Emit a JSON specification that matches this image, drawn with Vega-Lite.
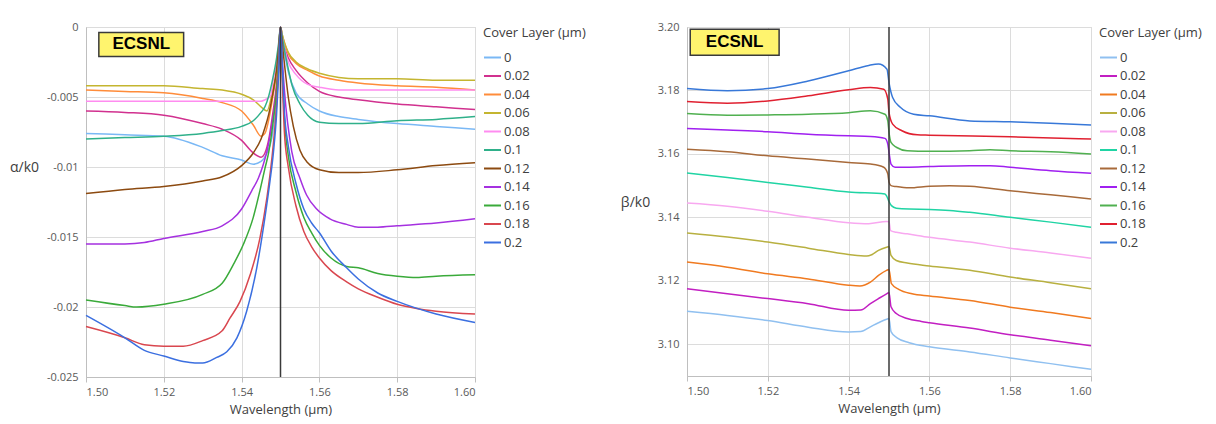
{
"$schema": "https://vega.github.io/schema/vega-lite/v6.json",
"background": "white",
"padding": {"left": 8, "top": 20, "right": 0, "bottom": 0},
"config": {
  "font": "Open Sans",
  "view": {"stroke": "#d0d0d0"},
  "axis": {"labelFont": "Open Sans", "labelFontSize": 11, "labelColor": "#595959", "titleFont": "Open Sans", "titleFontSize": 13, "titleFontWeight": "normal", "titleColor": "#404040", "domainColor": "#bfbfbf", "tickColor": "#bfbfbf", "gridColor": "#dcdcdc", "grid": true},
  "legend": {"titleFont": "Open Sans", "titleFontSize": 13, "titleFontWeight": "normal", "titleColor": "#404040", "labelFont": "Open Sans", "labelFontSize": 13, "labelColor": "#404040", "symbolType": "stroke", "symbolSize": 289, "symbolStrokeWidth": 2, "rowPadding": 1.5, "labelOffset": 2, "offset": 5, "titlePadding": 8}
},
"datasets": {
"alpha": [
{"c":"0","w":1.50,"v":-0.0076},{"c":"0","w":1.51,"v":-0.0077},{"c":"0","w":1.52,"v":-0.0078},{"c":"0","w":1.53,"v":-0.0086},{"c":"0","w":1.535,"v":-0.0092},{"c":"0","w":1.54,"v":-0.0095},{"c":"0","w":1.543,"v":-0.0098},{"c":"0","w":1.545,"v":-0.0096},{"c":"0","w":1.5465,"v":-0.0090},{"c":"0","w":1.5478,"v":-0.0079},{"c":"0","w":1.5489,"v":-0.0055},{"c":"0","w":1.5495,"v":-0.0030},{"c":"0","w":1.55,"v":0},{"c":"0","w":1.5505,"v":-0.0010},{"c":"0","w":1.551,"v":-0.0018},{"c":"0","w":1.552,"v":-0.0032},{"c":"0","w":1.554,"v":-0.0047},{"c":"0","w":1.557,"v":-0.0055},{"c":"0","w":1.56,"v":-0.0060},{"c":"0","w":1.565,"v":-0.0064},{"c":"0","w":1.57,"v":-0.0066},{"c":"0","w":1.58,"v":-0.0069},{"c":"0","w":1.59,"v":-0.0071},{"c":"0","w":1.60,"v":-0.0073},
{"c":"0.02","w":1.50,"v":-0.0060},{"c":"0.02","w":1.51,"v":-0.0061},{"c":"0.02","w":1.52,"v":-0.0063},{"c":"0.02","w":1.53,"v":-0.0069},{"c":"0.02","w":1.535,"v":-0.0073},{"c":"0.02","w":1.54,"v":-0.0081},{"c":"0.02","w":1.543,"v":-0.0090},{"c":"0.02","w":1.545,"v":-0.0093},{"c":"0.02","w":1.546,"v":-0.0090},{"c":"0.02","w":1.547,"v":-0.0080},{"c":"0.02","w":1.548,"v":-0.0062},{"c":"0.02","w":1.549,"v":-0.0040},{"c":"0.02","w":1.5495,"v":-0.0022},{"c":"0.02","w":1.55,"v":0},{"c":"0.02","w":1.5505,"v":-0.0008},{"c":"0.02","w":1.551,"v":-0.0014},{"c":"0.02","w":1.552,"v":-0.0022},{"c":"0.02","w":1.554,"v":-0.0031},{"c":"0.02","w":1.557,"v":-0.0040},{"c":"0.02","w":1.56,"v":-0.0046},{"c":"0.02","w":1.565,"v":-0.0050},{"c":"0.02","w":1.57,"v":-0.0052},{"c":"0.02","w":1.58,"v":-0.0055},{"c":"0.02","w":1.59,"v":-0.0057},{"c":"0.02","w":1.60,"v":-0.0059},
{"c":"0.04","w":1.50,"v":-0.0045},{"c":"0.04","w":1.51,"v":-0.0046},{"c":"0.04","w":1.52,"v":-0.0047},{"c":"0.04","w":1.53,"v":-0.0051},{"c":"0.04","w":1.535,"v":-0.0054},{"c":"0.04","w":1.54,"v":-0.0060},{"c":"0.04","w":1.543,"v":-0.0070},{"c":"0.04","w":1.545,"v":-0.0078},{"c":"0.04","w":1.546,"v":-0.0076},{"c":"0.04","w":1.547,"v":-0.0066},{"c":"0.04","w":1.548,"v":-0.0050},{"c":"0.04","w":1.549,"v":-0.0032},{"c":"0.04","w":1.5495,"v":-0.0018},{"c":"0.04","w":1.55,"v":0},{"c":"0.04","w":1.5505,"v":-0.0006},{"c":"0.04","w":1.551,"v":-0.0011},{"c":"0.04","w":1.552,"v":-0.0019},{"c":"0.04","w":1.554,"v":-0.0026},{"c":"0.04","w":1.557,"v":-0.0031},{"c":"0.04","w":1.56,"v":-0.0035},{"c":"0.04","w":1.565,"v":-0.0038},{"c":"0.04","w":1.57,"v":-0.0040},{"c":"0.04","w":1.58,"v":-0.0042},{"c":"0.04","w":1.59,"v":-0.0043},{"c":"0.04","w":1.60,"v":-0.0045},
{"c":"0.06","w":1.50,"v":-0.0042},{"c":"0.06","w":1.51,"v":-0.0042},{"c":"0.06","w":1.52,"v":-0.0042},{"c":"0.06","w":1.53,"v":-0.0044},{"c":"0.06","w":1.535,"v":-0.0045},{"c":"0.06","w":1.54,"v":-0.0048},{"c":"0.06","w":1.543,"v":-0.0052},{"c":"0.06","w":1.545,"v":-0.0057},{"c":"0.06","w":1.5465,"v":-0.0060},{"c":"0.06","w":1.548,"v":-0.0045},{"c":"0.06","w":1.549,"v":-0.0030},{"c":"0.06","w":1.5495,"v":-0.0016},{"c":"0.06","w":1.55,"v":0},{"c":"0.06","w":1.5505,"v":-0.0006},{"c":"0.06","w":1.551,"v":-0.0011},{"c":"0.06","w":1.552,"v":-0.0018},{"c":"0.06","w":1.554,"v":-0.0025},{"c":"0.06","w":1.557,"v":-0.0030},{"c":"0.06","w":1.56,"v":-0.0033},{"c":"0.06","w":1.565,"v":-0.0036},{"c":"0.06","w":1.57,"v":-0.0037},{"c":"0.06","w":1.58,"v":-0.0037},{"c":"0.06","w":1.59,"v":-0.0038},{"c":"0.06","w":1.60,"v":-0.0038},
{"c":"0.08","w":1.50,"v":-0.0053},{"c":"0.08","w":1.52,"v":-0.0053},{"c":"0.08","w":1.54,"v":-0.0053},{"c":"0.08","w":1.545,"v":-0.0053},{"c":"0.08","w":1.546,"v":-0.0052},{"c":"0.08","w":1.5475,"v":-0.0049},{"c":"0.08","w":1.548,"v":-0.0040},{"c":"0.08","w":1.549,"v":-0.0025},{"c":"0.08","w":1.5495,"v":-0.0014},{"c":"0.08","w":1.55,"v":0},{"c":"0.08","w":1.5505,"v":-0.0008},{"c":"0.08","w":1.551,"v":-0.0015},{"c":"0.08","w":1.552,"v":-0.0025},{"c":"0.08","w":1.554,"v":-0.0034},{"c":"0.08","w":1.557,"v":-0.0041},{"c":"0.08","w":1.56,"v":-0.0043},{"c":"0.08","w":1.565,"v":-0.0045},{"c":"0.08","w":1.57,"v":-0.0045},{"c":"0.08","w":1.58,"v":-0.0045},{"c":"0.08","w":1.59,"v":-0.0045},{"c":"0.08","w":1.60,"v":-0.0045},
{"c":"0.1","w":1.50,"v":-0.0080},{"c":"0.1","w":1.51,"v":-0.0079},{"c":"0.1","w":1.52,"v":-0.0078},{"c":"0.1","w":1.53,"v":-0.0076},{"c":"0.1","w":1.535,"v":-0.0074},{"c":"0.1","w":1.54,"v":-0.0071},{"c":"0.1","w":1.543,"v":-0.0067},{"c":"0.1","w":1.545,"v":-0.0061},{"c":"0.1","w":1.546,"v":-0.0057},{"c":"0.1","w":1.547,"v":-0.0049},{"c":"0.1","w":1.548,"v":-0.0037},{"c":"0.1","w":1.549,"v":-0.0022},{"c":"0.1","w":1.5495,"v":-0.0012},{"c":"0.1","w":1.55,"v":0},{"c":"0.1","w":1.5505,"v":-0.0008},{"c":"0.1","w":1.551,"v":-0.0016},{"c":"0.1","w":1.552,"v":-0.0030},{"c":"0.1","w":1.553,"v":-0.0042},{"c":"0.1","w":1.555,"v":-0.0055},{"c":"0.1","w":1.557,"v":-0.0063},{"c":"0.1","w":1.56,"v":-0.0068},{"c":"0.1","w":1.565,"v":-0.0069},{"c":"0.1","w":1.57,"v":-0.0069},{"c":"0.1","w":1.58,"v":-0.0067},{"c":"0.1","w":1.59,"v":-0.0066},{"c":"0.1","w":1.60,"v":-0.0064},
{"c":"0.12","w":1.50,"v":-0.0119},{"c":"0.12","w":1.51,"v":-0.0116},{"c":"0.12","w":1.52,"v":-0.0114},{"c":"0.12","w":1.53,"v":-0.0110},{"c":"0.12","w":1.535,"v":-0.0107},{"c":"0.12","w":1.54,"v":-0.0099},{"c":"0.12","w":1.543,"v":-0.0090},{"c":"0.12","w":1.545,"v":-0.0080},{"c":"0.12","w":1.546,"v":-0.0072},{"c":"0.12","w":1.547,"v":-0.0062},{"c":"0.12","w":1.548,"v":-0.0048},{"c":"0.12","w":1.549,"v":-0.0030},{"c":"0.12","w":1.5495,"v":-0.0016},{"c":"0.12","w":1.55,"v":0},{"c":"0.12","w":1.5505,"v":-0.0013},{"c":"0.12","w":1.551,"v":-0.0026},{"c":"0.12","w":1.552,"v":-0.0050},{"c":"0.12","w":1.5533,"v":-0.0071},{"c":"0.12","w":1.555,"v":-0.0088},{"c":"0.12","w":1.557,"v":-0.0097},{"c":"0.12","w":1.56,"v":-0.0102},{"c":"0.12","w":1.565,"v":-0.0104},{"c":"0.12","w":1.57,"v":-0.0104},{"c":"0.12","w":1.58,"v":-0.0102},{"c":"0.12","w":1.59,"v":-0.0099},{"c":"0.12","w":1.60,"v":-0.0097},
{"c":"0.14","w":1.50,"v":-0.0155},{"c":"0.14","w":1.51,"v":-0.0155},{"c":"0.14","w":1.515,"v":-0.0154},{"c":"0.14","w":1.52,"v":-0.0151},{"c":"0.14","w":1.53,"v":-0.0146},{"c":"0.14","w":1.535,"v":-0.0142},{"c":"0.14","w":1.54,"v":-0.0130},{"c":"0.14","w":1.5426,"v":-0.0117},{"c":"0.14","w":1.5443,"v":-0.0108},{"c":"0.14","w":1.5456,"v":-0.0098},{"c":"0.14","w":1.5465,"v":-0.0089},{"c":"0.14","w":1.548,"v":-0.0066},{"c":"0.14","w":1.549,"v":-0.0045},{"c":"0.14","w":1.5495,"v":-0.0025},{"c":"0.14","w":1.55,"v":0},{"c":"0.14","w":1.5505,"v":-0.0025},{"c":"0.14","w":1.551,"v":-0.0045},{"c":"0.14","w":1.5529,"v":-0.0089},{"c":"0.14","w":1.555,"v":-0.0108},{"c":"0.14","w":1.5567,"v":-0.0120},{"c":"0.14","w":1.5593,"v":-0.0130},{"c":"0.14","w":1.5627,"v":-0.0137},{"c":"0.14","w":1.567,"v":-0.0141},{"c":"0.14","w":1.57,"v":-0.0143},{"c":"0.14","w":1.575,"v":-0.0143},{"c":"0.14","w":1.58,"v":-0.0142},{"c":"0.14","w":1.59,"v":-0.0140},{"c":"0.14","w":1.60,"v":-0.0137},
{"c":"0.16","w":1.50,"v":-0.0195},{"c":"0.16","w":1.51,"v":-0.0199},{"c":"0.16","w":1.513,"v":-0.0200},{"c":"0.16","w":1.52,"v":-0.0198},{"c":"0.16","w":1.53,"v":-0.0191},{"c":"0.16","w":1.535,"v":-0.0183},{"c":"0.16","w":1.538,"v":-0.0169},{"c":"0.16","w":1.5405,"v":-0.0155},{"c":"0.16","w":1.543,"v":-0.0136},{"c":"0.16","w":1.5447,"v":-0.0117},{"c":"0.16","w":1.546,"v":-0.0101},{"c":"0.16","w":1.547,"v":-0.0089},{"c":"0.16","w":1.548,"v":-0.0070},{"c":"0.16","w":1.549,"v":-0.0045},{"c":"0.16","w":1.5495,"v":-0.0025},{"c":"0.16","w":1.55,"v":0},{"c":"0.16","w":1.5505,"v":-0.0035},{"c":"0.16","w":1.551,"v":-0.0065},{"c":"0.16","w":1.552,"v":-0.0092},{"c":"0.16","w":1.554,"v":-0.0118},{"c":"0.16","w":1.556,"v":-0.0136},{"c":"0.16","w":1.558,"v":-0.0147},{"c":"0.16","w":1.56,"v":-0.0156},{"c":"0.16","w":1.563,"v":-0.0165},{"c":"0.16","w":1.567,"v":-0.0171},{"c":"0.16","w":1.57,"v":-0.0172},{"c":"0.16","w":1.575,"v":-0.0176},{"c":"0.16","w":1.58,"v":-0.0178},{"c":"0.16","w":1.585,"v":-0.0179},{"c":"0.16","w":1.59,"v":-0.0178},{"c":"0.16","w":1.60,"v":-0.0177},
{"c":"0.18","w":1.50,"v":-0.0214},{"c":"0.18","w":1.51,"v":-0.0222},{"c":"0.18","w":1.515,"v":-0.0227},{"c":"0.18","w":1.52,"v":-0.0228},{"c":"0.18","w":1.525,"v":-0.0228},{"c":"0.18","w":1.53,"v":-0.0224},{"c":"0.18","w":1.535,"v":-0.0217},{"c":"0.18","w":1.537,"v":-0.0208},{"c":"0.18","w":1.5396,"v":-0.0196},{"c":"0.18","w":1.5422,"v":-0.0177},{"c":"0.18","w":1.5447,"v":-0.0151},{"c":"0.18","w":1.5465,"v":-0.0122},{"c":"0.18","w":1.5477,"v":-0.0096},{"c":"0.18","w":1.549,"v":-0.0055},{"c":"0.18","w":1.5495,"v":-0.0030},{"c":"0.18","w":1.55,"v":0},{"c":"0.18","w":1.5505,"v":-0.0040},{"c":"0.18","w":1.551,"v":-0.0075},{"c":"0.18","w":1.552,"v":-0.0100},{"c":"0.18","w":1.554,"v":-0.0128},{"c":"0.18","w":1.556,"v":-0.0146},{"c":"0.18","w":1.558,"v":-0.0157},{"c":"0.18","w":1.56,"v":-0.0165},{"c":"0.18","w":1.563,"v":-0.0174},{"c":"0.18","w":1.567,"v":-0.0182},{"c":"0.18","w":1.57,"v":-0.0187},{"c":"0.18","w":1.575,"v":-0.0193},{"c":"0.18","w":1.58,"v":-0.0198},{"c":"0.18","w":1.585,"v":-0.0201},{"c":"0.18","w":1.59,"v":-0.0203},{"c":"0.18","w":1.60,"v":-0.0205},
{"c":"0.2","w":1.50,"v":-0.0206},{"c":"0.2","w":1.51,"v":-0.0222},{"c":"0.2","w":1.515,"v":-0.0231},{"c":"0.2","w":1.52,"v":-0.0235},{"c":"0.2","w":1.525,"v":-0.0239},{"c":"0.2","w":1.528,"v":-0.0240},{"c":"0.2","w":1.53,"v":-0.0240},{"c":"0.2","w":1.5336,"v":-0.0236},{"c":"0.2","w":1.5362,"v":-0.0232},{"c":"0.2","w":1.5388,"v":-0.0222},{"c":"0.2","w":1.5413,"v":-0.0203},{"c":"0.2","w":1.5439,"v":-0.0172},{"c":"0.2","w":1.546,"v":-0.0136},{"c":"0.2","w":1.5473,"v":-0.0110},{"c":"0.2","w":1.5482,"v":-0.0089},{"c":"0.2","w":1.549,"v":-0.0062},{"c":"0.2","w":1.5495,"v":-0.0035},{"c":"0.2","w":1.55,"v":0},{"c":"0.2","w":1.5505,"v":-0.0030},{"c":"0.2","w":1.551,"v":-0.0060},{"c":"0.2","w":1.552,"v":-0.0085},{"c":"0.2","w":1.554,"v":-0.0112},{"c":"0.2","w":1.556,"v":-0.0130},{"c":"0.2","w":1.558,"v":-0.0140},{"c":"0.2","w":1.56,"v":-0.0147},{"c":"0.2","w":1.563,"v":-0.0160},{"c":"0.2","w":1.567,"v":-0.0172},{"c":"0.2","w":1.57,"v":-0.0180},{"c":"0.2","w":1.575,"v":-0.0190},{"c":"0.2","w":1.58,"v":-0.0196},{"c":"0.2","w":1.59,"v":-0.0205},{"c":"0.2","w":1.60,"v":-0.0211}
],
"beta": [
{"c":"0","w":1.50,"v":3.1104},{"c":"0","w":1.51,"v":3.1091},{"c":"0","w":1.52,"v":3.1075},{"c":"0","w":1.53,"v":3.1054},{"c":"0","w":1.54,"v":3.1039},{"c":"0","w":1.543,"v":3.1040},{"c":"0","w":1.5454,"v":3.1055},{"c":"0","w":1.5474,"v":3.1068},{"c":"0","w":1.5494,"v":3.1079},{"c":"0","w":1.55,"v":3.1081},{"c":"0","w":1.5505,"v":3.1040},{"c":"0","w":1.552,"v":3.1020},{"c":"0","w":1.555,"v":3.1005},{"c":"0","w":1.56,"v":3.0992},{"c":"0","w":1.57,"v":3.0976},{"c":"0","w":1.58,"v":3.0957},{"c":"0","w":1.59,"v":3.0939},{"c":"0","w":1.60,"v":3.0921},
{"c":"0.02","w":1.50,"v":3.1175},{"c":"0.02","w":1.51,"v":3.1159},{"c":"0.02","w":1.52,"v":3.1144},{"c":"0.02","w":1.53,"v":3.1128},{"c":"0.02","w":1.54,"v":3.1107},{"c":"0.02","w":1.543,"v":3.1108},{"c":"0.02","w":1.5454,"v":3.1128},{"c":"0.02","w":1.5474,"v":3.1144},{"c":"0.02","w":1.5494,"v":3.1159},{"c":"0.02","w":1.55,"v":3.1163},{"c":"0.02","w":1.5505,"v":3.1118},{"c":"0.02","w":1.5518,"v":3.1097},{"c":"0.02","w":1.5545,"v":3.1081},{"c":"0.02","w":1.558,"v":3.1072},{"c":"0.02","w":1.56,"v":3.1068},{"c":"0.02","w":1.57,"v":3.1051},{"c":"0.02","w":1.58,"v":3.1030},{"c":"0.02","w":1.59,"v":3.1013},{"c":"0.02","w":1.60,"v":3.0995},
{"c":"0.04","w":1.50,"v":3.1259},{"c":"0.04","w":1.51,"v":3.1243},{"c":"0.04","w":1.52,"v":3.1222},{"c":"0.04","w":1.53,"v":3.1206},{"c":"0.04","w":1.54,"v":3.1186},{"c":"0.04","w":1.5428,"v":3.1184},{"c":"0.04","w":1.5454,"v":3.1196},{"c":"0.04","w":1.5474,"v":3.1217},{"c":"0.04","w":1.5494,"v":3.1233},{"c":"0.04","w":1.55,"v":3.1236},{"c":"0.04","w":1.5506,"v":3.1191},{"c":"0.04","w":1.5524,"v":3.1173},{"c":"0.04","w":1.5557,"v":3.1159},{"c":"0.04","w":1.56,"v":3.1152},{"c":"0.04","w":1.57,"v":3.1138},{"c":"0.04","w":1.58,"v":3.1117},{"c":"0.04","w":1.59,"v":3.1100},{"c":"0.04","w":1.60,"v":3.1081},
{"c":"0.06","w":1.50,"v":3.1351},{"c":"0.06","w":1.51,"v":3.1338},{"c":"0.06","w":1.52,"v":3.1322},{"c":"0.06","w":1.53,"v":3.1303},{"c":"0.06","w":1.54,"v":3.1283},{"c":"0.06","w":1.5445,"v":3.1278},{"c":"0.06","w":1.5457,"v":3.1282},{"c":"0.06","w":1.5474,"v":3.1296},{"c":"0.06","w":1.5494,"v":3.1306},{"c":"0.06","w":1.55,"v":3.1308},{"c":"0.06","w":1.5505,"v":3.1280},{"c":"0.06","w":1.5518,"v":3.1264},{"c":"0.06","w":1.5545,"v":3.1256},{"c":"0.06","w":1.56,"v":3.1247},{"c":"0.06","w":1.57,"v":3.1233},{"c":"0.06","w":1.58,"v":3.1212},{"c":"0.06","w":1.59,"v":3.1194},{"c":"0.06","w":1.60,"v":3.1175},
{"c":"0.08","w":1.50,"v":3.1445},{"c":"0.08","w":1.51,"v":3.1435},{"c":"0.08","w":1.52,"v":3.1419},{"c":"0.08","w":1.53,"v":3.1400},{"c":"0.08","w":1.54,"v":3.1383},{"c":"0.08","w":1.545,"v":3.1380},{"c":"0.08","w":1.5494,"v":3.1387},{"c":"0.08","w":1.55,"v":3.1386},{"c":"0.08","w":1.5504,"v":3.1358},{"c":"0.08","w":1.5518,"v":3.1353},{"c":"0.08","w":1.5545,"v":3.1348},{"c":"0.08","w":1.56,"v":3.1337},{"c":"0.08","w":1.57,"v":3.1322},{"c":"0.08","w":1.58,"v":3.1303},{"c":"0.08","w":1.59,"v":3.1288},{"c":"0.08","w":1.60,"v":3.1271},
{"c":"0.1","w":1.50,"v":3.1540},{"c":"0.1","w":1.51,"v":3.1526},{"c":"0.1","w":1.52,"v":3.1510},{"c":"0.1","w":1.53,"v":3.1495},{"c":"0.1","w":1.54,"v":3.1480},{"c":"0.1","w":1.549,"v":3.1474},{"c":"0.1","w":1.5495,"v":3.1465},{"c":"0.1","w":1.55,"v":3.1450},{"c":"0.1","w":1.5506,"v":3.1437},{"c":"0.1","w":1.5518,"v":3.1429},{"c":"0.1","w":1.555,"v":3.1426},{"c":"0.1","w":1.56,"v":3.1425},{"c":"0.1","w":1.565,"v":3.1422},{"c":"0.1","w":1.57,"v":3.1416},{"c":"0.1","w":1.58,"v":3.1400},{"c":"0.1","w":1.59,"v":3.1385},{"c":"0.1","w":1.60,"v":3.1369},
{"c":"0.12","w":1.50,"v":3.1615},{"c":"0.12","w":1.51,"v":3.1607},{"c":"0.12","w":1.52,"v":3.1594},{"c":"0.12","w":1.53,"v":3.1584},{"c":"0.12","w":1.54,"v":3.1573},{"c":"0.12","w":1.5454,"v":3.1568},{"c":"0.12","w":1.5487,"v":3.1558},{"c":"0.12","w":1.5497,"v":3.1537},{"c":"0.12","w":1.55,"v":3.1511},{"c":"0.12","w":1.5505,"v":3.1500},{"c":"0.12","w":1.5518,"v":3.1497},{"c":"0.12","w":1.555,"v":3.1493},{"c":"0.12","w":1.56,"v":3.1498},{"c":"0.12","w":1.565,"v":3.1500},{"c":"0.12","w":1.57,"v":3.1498},{"c":"0.12","w":1.58,"v":3.1484},{"c":"0.12","w":1.59,"v":3.1471},{"c":"0.12","w":1.60,"v":3.1458},
{"c":"0.14","w":1.50,"v":3.1680},{"c":"0.14","w":1.51,"v":3.1675},{"c":"0.14","w":1.52,"v":3.1670},{"c":"0.14","w":1.53,"v":3.1662},{"c":"0.14","w":1.54,"v":3.1657},{"c":"0.14","w":1.5454,"v":3.1655},{"c":"0.14","w":1.549,"v":3.1649},{"c":"0.14","w":1.5497,"v":3.1631},{"c":"0.14","w":1.55,"v":3.1605},{"c":"0.14","w":1.5505,"v":3.1568},{"c":"0.14","w":1.5515,"v":3.1558},{"c":"0.14","w":1.555,"v":3.1558},{"c":"0.14","w":1.56,"v":3.1560},{"c":"0.14","w":1.57,"v":3.1563},{"c":"0.14","w":1.575,"v":3.1563},{"c":"0.14","w":1.58,"v":3.1558},{"c":"0.14","w":1.59,"v":3.1547},{"c":"0.14","w":1.60,"v":3.1539},
{"c":"0.16","w":1.50,"v":3.1727},{"c":"0.16","w":1.51,"v":3.1722},{"c":"0.16","w":1.52,"v":3.1723},{"c":"0.16","w":1.53,"v":3.1725},{"c":"0.16","w":1.54,"v":3.1730},{"c":"0.16","w":1.5454,"v":3.1736},{"c":"0.16","w":1.549,"v":3.1725},{"c":"0.16","w":1.5497,"v":3.1704},{"c":"0.16","w":1.55,"v":3.1668},{"c":"0.16","w":1.5505,"v":3.1636},{"c":"0.16","w":1.5518,"v":3.1621},{"c":"0.16","w":1.5545,"v":3.1610},{"c":"0.16","w":1.56,"v":3.1608},{"c":"0.16","w":1.57,"v":3.1610},{"c":"0.16","w":1.575,"v":3.1613},{"c":"0.16","w":1.58,"v":3.1610},{"c":"0.16","w":1.59,"v":3.1607},{"c":"0.16","w":1.60,"v":3.1600},
{"c":"0.18","w":1.50,"v":3.1765},{"c":"0.18","w":1.51,"v":3.1760},{"c":"0.18","w":1.52,"v":3.1767},{"c":"0.18","w":1.53,"v":3.1783},{"c":"0.18","w":1.54,"v":3.1802},{"c":"0.18","w":1.5454,"v":3.1809},{"c":"0.18","w":1.5487,"v":3.1804},{"c":"0.18","w":1.5497,"v":3.1773},{"c":"0.18","w":1.55,"v":3.1731},{"c":"0.18","w":1.5509,"v":3.1694},{"c":"0.18","w":1.5532,"v":3.1673},{"c":"0.18","w":1.557,"v":3.1660},{"c":"0.18","w":1.56,"v":3.1659},{"c":"0.18","w":1.58,"v":3.1654},{"c":"0.18","w":1.60,"v":3.1647},
{"c":"0.2","w":1.50,"v":3.1806},{"c":"0.2","w":1.51,"v":3.1799},{"c":"0.2","w":1.52,"v":3.1806},{"c":"0.2","w":1.53,"v":3.1830},{"c":"0.2","w":1.54,"v":3.1862},{"c":"0.2","w":1.545,"v":3.1879},{"c":"0.2","w":1.5474,"v":3.1883},{"c":"0.2","w":1.5495,"v":3.1867},{"c":"0.2","w":1.55,"v":3.1825},{"c":"0.2","w":1.5509,"v":3.1778},{"c":"0.2","w":1.5528,"v":3.1747},{"c":"0.2","w":1.5561,"v":3.1725},{"c":"0.2","w":1.56,"v":3.1720},{"c":"0.2","w":1.57,"v":3.1704},{"c":"0.2","w":1.58,"v":3.1701},{"c":"0.2","w":1.59,"v":3.1697},{"c":"0.2","w":1.60,"v":3.1691}
]
},
"spacing": 32,
"hconcat": [
{
  "width": 389, "height": 350,
  "layer": [
    {"data": {"name": "alpha"},
     "mark": {"type": "line", "strokeWidth": 1.5, "interpolate": "monotone"},
     "encoding": {
       "x": {"field": "w", "type": "quantitative", "scale": {"domain": [1.5, 1.6], "nice": false, "zero": false},
             "axis": {"values": [1.5, 1.52, 1.54, 1.56, 1.58, 1.6], "format": ".2f", "title": "Wavelength (μm)", "tickSize": 5, "labelPadding": 4, "titlePadding": 6}},
       "y": {"field": "v", "type": "quantitative", "scale": {"domain": [-0.025, 0], "nice": false, "zero": false},
             "axis": {"values": [0, -0.005, -0.01, -0.015, -0.02, -0.025], "format": "~g", "labelExpr": "replace(datum.label, '\u2212', '-')", "ticks": false, "labelPadding": 8, "title": "α/k0", "titleAngle": 0, "titleFontSize": 14, "titleAlign": "center", "titleBaseline": "middle", "titleX": -62, "titleY": 140}},
       "color": {"field": "c", "type": "nominal", "title": "Cover Layer (μm)",
                 "scale": {"domain": ["0","0.02","0.04","0.06","0.08","0.1","0.12","0.14","0.16","0.18","0.2"],
                           "range": ["#7ab8f5","#d1318f","#ff8c3a","#c4b530","#ff8cf0","#2fb08a","#8c4a10","#a531e0","#3aaa3a","#d9474f","#3b6fe0"]}}
     }},
    {"data": {"values": [{}]}, "mark": {"type": "rule", "color": "#3a3a3a", "strokeWidth": 1.5}, "encoding": {"x": {"datum": 1.55, "type": "quantitative"}}},
    {"data": {"values": [{}]}, "mark": {"type": "rect", "fill": "#fff46e", "stroke": "#3a3a3a", "strokeWidth": 1.5},
     "encoding": {"x": {"datum": 1.5033, "type": "quantitative"}, "x2": {"datum": 1.5251}, "y": {"datum": -0.0004, "type": "quantitative"}, "y2": {"datum": -0.0021}}},
    {"data": {"values": [{}]}, "mark": {"type": "text", "text": "ECSNL", "font": "Liberation Sans", "fontWeight": "bold", "fontSize": 17, "color": "#000000", "align": "center", "baseline": "middle"},
     "encoding": {"x": {"datum": 1.5142, "type": "quantitative"}, "y": {"datum": -0.00124, "type": "quantitative"}}}
  ]
},
{
  "width": 404, "height": 349,
  "layer": [
    {"data": {"name": "beta"},
     "mark": {"type": "line", "strokeWidth": 1.5, "interpolate": "monotone"},
     "encoding": {
       "x": {"field": "w", "type": "quantitative", "scale": {"domain": [1.5, 1.6], "nice": false, "zero": false},
             "axis": {"values": [1.5, 1.52, 1.54, 1.56, 1.58, 1.6], "format": ".2f", "title": "Wavelength (μm)", "tickSize": 5, "labelPadding": 4, "titlePadding": 6}},
       "y": {"field": "v", "type": "quantitative", "scale": {"domain": [3.09, 3.2], "nice": false, "zero": false},
             "axis": {"values": [3.1, 3.12, 3.14, 3.16, 3.18, 3.2], "format": ".2f", "ticks": false, "labelPadding": 8, "title": "β/k0", "titleAngle": 0, "titleFontSize": 14, "titleAlign": "center", "titleBaseline": "middle", "titleX": -52, "titleY": 175}},
       "color": {"field": "c", "type": "nominal", "title": "Cover Layer (μm)",
                 "scale": {"domain": ["0","0.02","0.04","0.06","0.08","0.1","0.12","0.14","0.16","0.18","0.2"],
                           "range": ["#90c0f0","#c21fc2","#f07a20","#b8b040","#f8a8f0","#20d4a4","#a86a3a","#a020f0","#50b050","#e02030","#3878d8"]}}
     }},
    {"data": {"values": [{}]}, "mark": {"type": "rule", "color": "#3a3a3a", "strokeWidth": 1.5}, "encoding": {"x": {"datum": 1.55, "type": "quantitative"}}},
    {"data": {"values": [{}]}, "mark": {"type": "rect", "fill": "#fff46e", "stroke": "#3a3a3a", "strokeWidth": 1.5},
     "encoding": {"x": {"datum": 1.5008, "type": "quantitative"}, "x2": {"datum": 1.5228}, "y": {"datum": 3.1993, "type": "quantitative"}, "y2": {"datum": 3.1911}}},
    {"data": {"values": [{}]}, "mark": {"type": "text", "text": "ECSNL", "font": "Liberation Sans", "fontWeight": "bold", "fontSize": 17, "color": "#000000", "align": "center", "baseline": "middle"},
     "encoding": {"x": {"datum": 1.5118, "type": "quantitative"}, "y": {"datum": 3.1952, "type": "quantitative"}}}
  ]
}
],
"resolve": {"scale": {"color": "independent"}, "legend": {"color": "independent"}}
}
